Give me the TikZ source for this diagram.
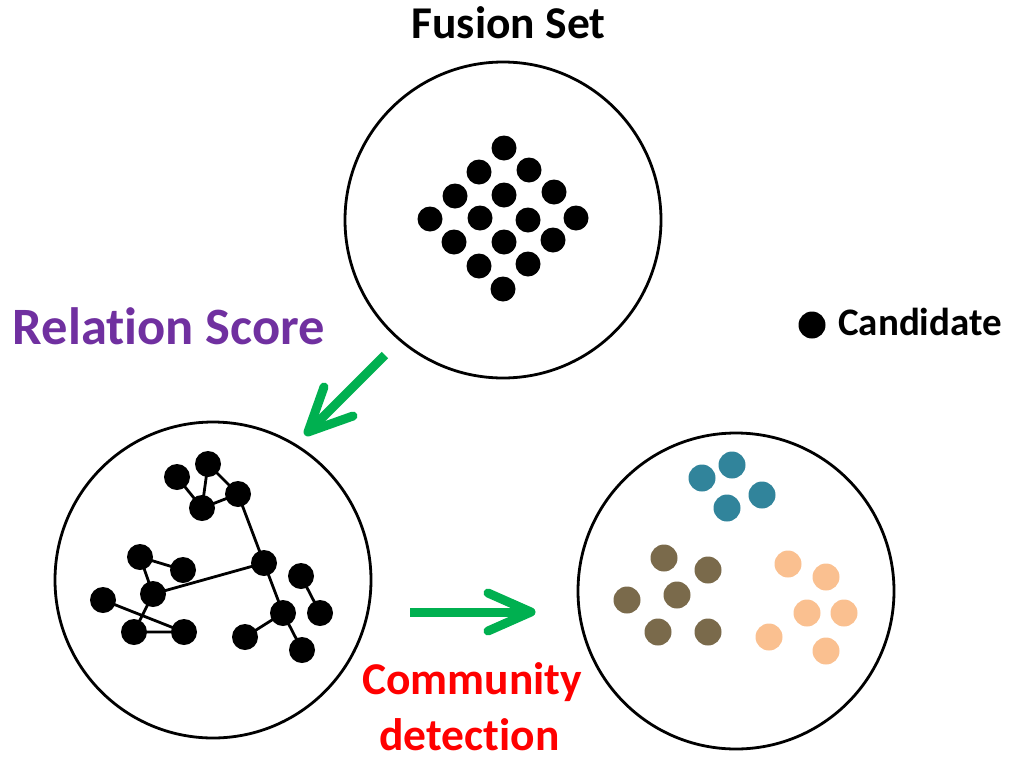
\documentclass[tikz,border=0pt]{standalone}
\usepackage{fontspec}
\setmainfont{Carlito}[Ligatures={NoCommon}]
\definecolor{mygreen}{HTML}{00B050}
\definecolor{mypurple}{HTML}{7030A0}
\definecolor{myteal}{HTML}{31849B}
\definecolor{mybrown}{HTML}{7A6A4B}
\definecolor{mypeach}{HTML}{FAC090}
\tikzset{
  bigcircle/.style={draw=black, line width=2.8pt, circle, minimum size=316pt, inner sep=0pt},
  dot/.style={circle, fill=#1, minimum size=25pt, inner sep=0pt},
  dot/.default=black,
  gnode/.style={circle, fill=black, minimum size=26pt, inner sep=0pt},
  gedge/.style={line width=2.8pt},
  shaft/.style={mygreen, line width=9pt, line cap=butt},
  arm/.style={mygreen, line width=9pt, line cap=round, line join=round},
  lbl/.style={font=\bfseries, anchor=base, inner sep=0pt}
}
\begin{document}
\begin{tikzpicture}[x=1pt, y=-1pt]
\useasboundingbox (0,0) rectangle (1009,758);
% circles
\node[bigcircle] (top) at (503,220) {};
\node[bigcircle] (left) at (213,580) {};
\node[bigcircle] (right) at (736,591) {};
% titles
\node[lbl, font=\bfseries\fontsize{45.5}{54}\selectfont] (fusion) at (508.5,38) {Fusion Set};
\node[lbl, text=mypurple, font=\bfseries\fontsize{52.5}{62}\selectfont] (relation) at (169,344) {Relation Score};
\node[dot, minimum size=27pt] (legdot) at (812,325) {};
\node[lbl, anchor=base west, font=\bfseries\fontsize{39}{46}\selectfont] (cand) at (838,335) {Candidate};
\node[lbl, text=red, font=\bfseries\fontsize{45.5}{54}\selectfont] (comm1) at (472,694) {Community};
\node[lbl, text=red, font=\bfseries\fontsize{45.5}{54}\selectfont] (comm2) at (469.5,750) {detection};
% top dots
\foreach \x/\y in {504/148, 479/172, 529/170, 455/196, 504/195, 554/192, 430/219, 480/218, 528/220, 576/218, 454/242, 504/242, 553/240, 479/266, 528/264, 503/289}
  \node[dot] at (\x,\y) {};
% graph
\node[gnode] (A) at (177,477) {};
\node[gnode] (B) at (208,464) {};
\node[gnode] (C) at (238,494) {};
\node[gnode] (D) at (202,508) {};
\node[gnode] (E) at (140,557) {};
\node[gnode] (F) at (183,570) {};
\node[gnode] (G) at (153,594) {};
\node[gnode] (H) at (103,600) {};
\node[gnode] (I) at (134,632) {};
\node[gnode] (J) at (184,632) {};
\node[gnode] (K) at (264,563) {};
\node[gnode] (L) at (301,576) {};
\node[gnode] (M) at (320,613) {};
\node[gnode] (N) at (283,613) {};
\node[gnode] (O) at (245,637) {};
\node[gnode] (P) at (302,650) {};
\draw[gedge] (A.center) -- (D.center) (B.center) -- (D.center) (B.center) -- (C.center)
  (D.center) -- (C.center) (C.center) -- (K.center) (K.center) -- (G.center)
  (E.center) -- (F.center) (E.center) -- (G.center) (G.center) -- (I.center)
  (H.center) -- (J.center) (I.center) -- (J.center) (K.center) -- (N.center)
  (N.center) -- (O.center) (N.center) -- (P.center) (L.center) -- (M.center);
% communities
\foreach \x/\y in {702/478, 732/465, 762/495, 727/508}
  \node[dot=myteal, minimum size=27pt] at (\x,\y) {};
\foreach \x/\y in {664/558, 708/570, 677/595, 627/600, 658/632, 708/632}
  \node[dot=mybrown, minimum size=27pt] at (\x,\y) {};
\foreach \x/\y in {788/564, 826/577, 807/613, 844/613, 769/637, 826/651}
  \node[dot=mypeach, minimum size=27pt] at (\x,\y) {};
% arrows
\coordinate (d0) at (385,355);
\coordinate (d1) at (308,432);
\coordinate (d2) at (353,416);
\coordinate (d3) at (324,387);
\draw[shaft] (d0) -- (d1);
\draw[arm] (d2) -- (d1) -- (d3);
\coordinate (h0) at (410,612);
\coordinate (h1) at (531,612);
\coordinate (h2) at (488,631);
\coordinate (h3) at (488,593);
\draw[shaft] (h0) -- (h1);
\draw[arm] (h2) -- (h1) -- (h3);
\end{tikzpicture}
\end{document}
